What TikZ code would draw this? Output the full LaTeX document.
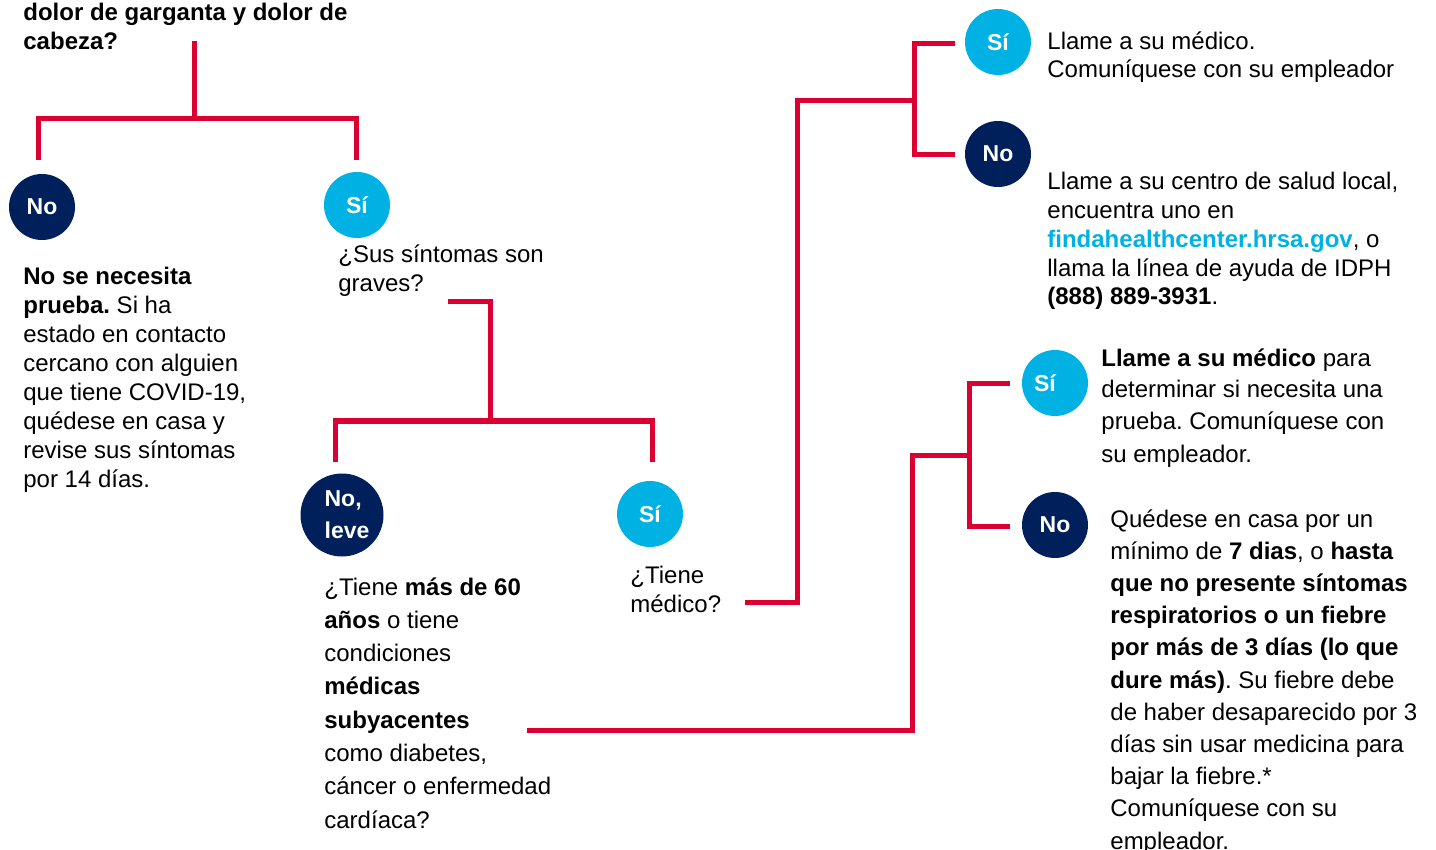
\documentclass[tikz,border=0pt]{standalone}
\usepackage{fontspec}
\setmainfont{Liberation Sans}
\usetikzlibrary{calc}
\definecolor{redline}{RGB}{220,0,50}
\definecolor{navy}{RGB}{0,32,91}
\definecolor{skyc}{RGB}{0,178,227}
\frenchspacing
\newcommand{\tblock}[2]{\vtop{\baselineskip=#1\lineskiplimit=-20pt\lineskip=0pt\relax #2}}
\newcommand{\Lx}[1]{\hbox{#1}}
\begin{document}
\begin{tikzpicture}[x=0.5pt,y=-0.5pt,
  conn/.style={draw=redline,line width=2.5pt},
  nocirc/.style={circle,fill=navy,text=white,font=\fontsize{11.5}{13}\selectfont\bfseries,minimum size=33pt,inner sep=0pt},
  sicirc/.style={nocirc,fill=skyc},
  body/.style={anchor=base west,inner sep=0pt,font=\fontsize{12}{14.5}\selectfont,text=black}]
\useasboundingbox (0,0) rectangle (1436,850);

% circles
\node[nocirc] (no1) at (42,207) {No};
\node[sicirc] (si1) at (357,205) {Sí};
\node[nocirc,minimum size=41.5pt] (no2) at (342,515) {\kern5pt\raisebox{-1.5pt}{\tblock{16pt}{\Lx{No,}\Lx{leve}}}};
\node[sicirc] (si2) at (650,514) {Sí};
\node[sicirc] (si3) at (998,42) {Sí};
\node[nocirc] (no3) at (998,154) {No};
\node[sicirc] (si4) at (1055,383) {\kern-10pt Sí};
\node[nocirc] (no4) at (1055,525) {No};

% texts
\node[body] (title) at (23,21) {\tblock{14.5pt}{\bfseries\Lx{dolor de garganta y dolor de}\Lx{cabeza?}}};
\node[body] (t1) at (23,285) {\tblock{14.5pt}{%
  \Lx{\textbf{No se necesita}}%
  \Lx{\textbf{prueba.} Si ha}%
  \Lx{estado en contacto}%
  \Lx{cercano con alguien}%
  \Lx{que tiene COVID-19,}%
  \Lx{quédese en casa y}%
  \Lx{revise sus síntomas}%
  \Lx{por 14 días.}}};
\node[body] (t2) at (338,263) {\tblock{14.5pt}{\Lx{¿Sus síntomas son}\Lx{graves?}}};
\node[body] (t3) at (324,595) {\tblock{16.65pt}{%
  \Lx{¿Tiene \textbf{más de 60}}%
  \Lx{\textbf{años} o tiene}%
  \Lx{condiciones}%
  \Lx{\textbf{médicas}}%
  \Lx{\textbf{subyacentes}}%
  \Lx{como diabetes,}%
  \Lx{cáncer o enfermedad}%
  \Lx{cardíaca?}}};
\node[body] (t4) at (630,583) {\tblock{14.5pt}{\Lx{¿Tiene}\Lx{médico?}}};
\node[body] (t5) at (1047,50) {\tblock{14pt}{\Lx{Llame a su médico.}\Lx{Comuníquese con su empleador}}};
\node[body] (t6) at (1047,190) {\tblock{14.35pt}{%
  \Lx{Llame a su centro de salud local,}%
  \Lx{encuentra uno en}%
  \Lx{\textcolor{skyc}{\textbf{findahealthcenter.hrsa.gov}}, o}%
  \Lx{llama la línea de ayuda de IDPH}%
  \Lx{\textbf{(888) 889-3931}.}}};
\node[body] (t7) at (1101,366) {\tblock{16pt}{%
  \Lx{\textbf{Llame a su médico} para}%
  \Lx{determinar si necesita una}%
  \Lx{prueba. Comuníquese con}%
  \Lx{su empleador.}}};
\node[body] (t8) at (1110,527) {\tblock{16.1pt}{%
  \Lx{Quédese en casa por un}%
  \Lx{mínimo de \textbf{7 dias}, o \textbf{hasta}}%
  \Lx{\textbf{que no presente síntomas}}%
  \Lx{\textbf{respiratorios o un fiebre}}%
  \Lx{\textbf{por más de 3 días (lo que}}%
  \Lx{\textbf{dure más)}. Su fiebre debe}%
  \Lx{de haber desaparecido por 3}%
  \Lx{días sin usar medicina para}%
  \Lx{bajar la fiebre.*}%
  \Lx{Comuníquese con su}%
  \Lx{empleador.}}};

% connector coordinates
\coordinate (a0) at (194,41);
\coordinate (a1) at (194,119);
\coordinate (a2) at (38,160);
\coordinate (a3) at (38,119);
\coordinate (a4) at (356,119);
\coordinate (a5) at (356,160);

\coordinate (b0) at (448,302);
\coordinate (b1) at (490,302);
\coordinate (b2) at (490,421);
\coordinate (b3) at (335,462);
\coordinate (b4) at (335,421);
\coordinate (b5) at (652,421);
\coordinate (b6) at (652,462);

\coordinate (c0) at (745,602);
\coordinate (c1) at (797,602);
\coordinate (c2) at (797,101);
\coordinate (c3) at (914,101);
\coordinate (c4) at (955,44);
\coordinate (c5) at (914,44);
\coordinate (c6) at (914,155);
\coordinate (c7) at (955,155);

\coordinate (d0) at (527,730);
\coordinate (d1) at (912,730);
\coordinate (d2) at (912,455);
\coordinate (d3) at (969,455);
\coordinate (d4) at (1010,384);
\coordinate (d5) at (969,384);
\coordinate (d6) at (969,526);
\coordinate (d7) at (1010,526);

\draw[conn] (a0) -- (a1);
\draw[conn] (a2) -- (a3) -- (a4) -- (a5);
\draw[conn] (b0) -- (b1) -- (b2);
\draw[conn] (b3) -- (b4) -- (b5) -- (b6);
\draw[conn] (c0) -- (c1) -- (c2) -- (c3);
\draw[conn] (c4) -- (c5) -- (c6) -- (c7);
\draw[conn] (d0) -- (d1) -- (d2) -- (d3);
\draw[conn] (d4) -- (d5) -- (d6) -- (d7);
\end{tikzpicture}
\end{document}
